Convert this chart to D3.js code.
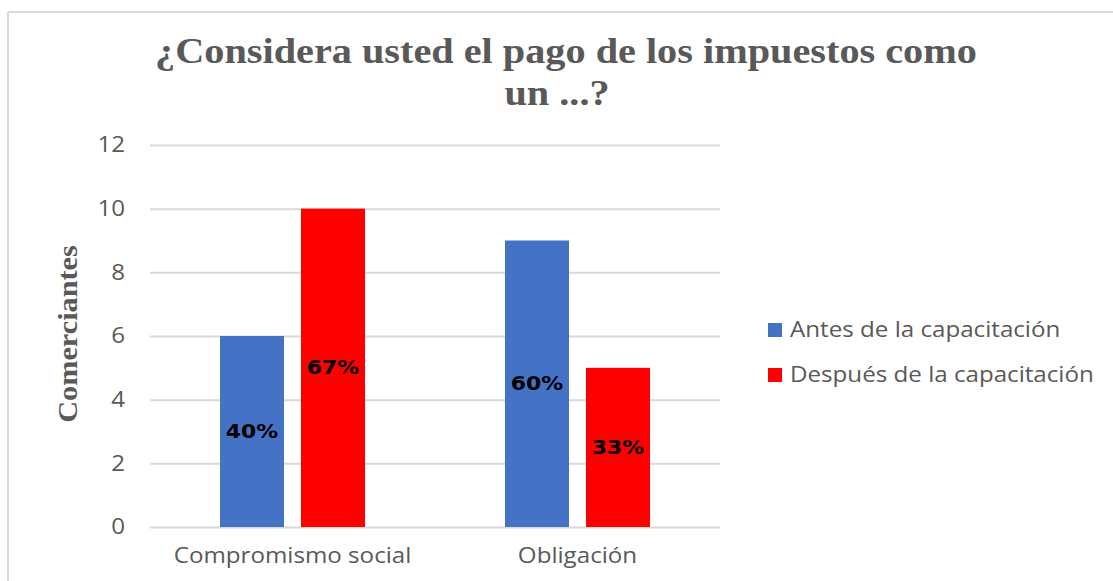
<!DOCTYPE html>
<html>
<head>
<meta charset="utf-8">
<script src="https://cdn.jsdelivr.net/npm/d3@7"></script>
<style>
  html, body { margin: 0; padding: 0; background: #ffffff; }
  svg { display: block; }
</style>
</head>
<body>
<svg id="chart" width="1113" height="581"></svg>
<script>
// Chart data
const titleLines = ["¿Considera usted el pago de los impuestos como", "un ...?"];
const yAxisTitle = "Comerciantes";
const categories = ["Compromismo social", "Obligación"];
const seriesNames = ["Antes de la capacitación", "Después de la capacitación"];
const seriesColors = ["#4472c4", "#ff0000"];
const antesValues = [6, 9];
const despuesValues = [10, 5];
const antesLabels = ["40%", "60%"];
const despuesLabels = ["67%", "33%"];
const yTicks = [0, 2, 4, 6, 8, 10, 12];

const series = [
  { name: seriesNames[0], color: seriesColors[0], values: antesValues, labels: antesLabels },
  { name: seriesNames[1], color: seriesColors[1], values: despuesValues, labels: despuesLabels }
];

const svg = d3.select("#chart");
const grey = "#595959";
const sans = "'Open Sans', sans-serif";
const serif = "'Liberation Serif', 'Times New Roman', serif";
const stretch = 1.15; // all text is drawn slightly wide

// Widen a text selection horizontally along its own direction
function widen(sel, k) {
  sel.each(function () {
    const w = this.getComputedTextLength();
    this.setAttribute("textLength", w * k);
    this.setAttribute("lengthAdjust", "spacingAndGlyphs");
  });
}

// Outer frame (top and left edges)
svg.append("line").attr("x1", 8).attr("x2", 1113).attr("y1", 12).attr("y2", 12)
  .attr("stroke", "#d9d9d9").attr("stroke-width", 2);
svg.append("line").attr("x1", 8).attr("x2", 8).attr("y1", 12).attr("y2", 581)
  .attr("stroke", "#d9d9d9").attr("stroke-width", 2);

// Plot area
const plot = { left: 150, right: 720, top: 145, bottom: 527 };

const x = d3.scaleBand().domain(categories).range([plot.left, plot.right]);
const y = d3.scaleLinear().domain([0, 12]).range([plot.bottom, plot.top]);

const barWidth = 64, barGap = 17;
const xInner = d3.scaleOrdinal().domain(seriesNames)
  .range([-(barWidth + barGap / 2), barGap / 2]);

// Gridlines
const grid = d3.axisLeft(y).tickValues(yTicks).tickSize(-(plot.right - plot.left)).tickFormat("");
svg.append("g").attr("transform", `translate(${plot.left},0)`).call(grid)
  .call(g => g.select(".domain").remove())
  .call(g => g.selectAll("line").attr("stroke", "#d9d9d9").attr("stroke-width", 2));

// Y axis tick labels
const yAxis = d3.axisLeft(y).tickValues(yTicks).tickSize(0).tickPadding(25);
svg.append("g").attr("transform", `translate(${plot.left},0)`).call(yAxis)
  .call(g => g.select(".domain").remove())
  .call(g => g.selectAll("text")
    .attr("fill", grey).attr("font-family", sans).attr("font-size", 21)
    .call(widen, stretch));

// X axis category labels
const xAxis = d3.axisBottom(x).tickSize(0).tickPadding(21);
svg.append("g").attr("transform", `translate(0,${plot.bottom})`).call(xAxis)
  .call(g => g.select(".domain").remove())
  .call(g => g.selectAll("text")
    .attr("fill", grey).attr("font-family", sans).attr("font-size", 21)
    .call(widen, stretch));

// Bars and value labels
series.forEach(s => {
  const g = svg.append("g");
  g.selectAll("rect").data(categories).join("rect")
    .attr("x", (c) => x(c) + x.bandwidth() / 2 + xInner(s.name))
    .attr("y", (c, i) => y(s.values[i]))
    .attr("width", barWidth)
    .attr("height", (c, i) => y(0) - y(s.values[i]))
    .attr("fill", s.color);
  g.selectAll("text").data(categories).join("text")
    .attr("x", (c) => x(c) + x.bandwidth() / 2 + xInner(s.name) + barWidth / 2)
    .attr("y", (c, i) => y(s.values[i] / 2))
    .attr("dy", "0.35em")
    .attr("text-anchor", "middle")
    .attr("font-family", "'DejaVu Sans', Verdana, sans-serif")
    .attr("font-weight", "bold")
    .attr("font-size", 19)
    .attr("fill", "#000000")
    .text((c, i) => s.labels[i])
    .call(widen, stretch);
});

// Title, one text element per line
const titleX = [566, 557];
svg.append("g").selectAll("text").data(titleLines).join("text")
  .attr("x", (d, i) => titleX[i])
  .attr("y", (d, i) => 63 + i * 42)
  .attr("text-anchor", "middle")
  .attr("font-family", serif)
  .attr("font-weight", "bold")
  .attr("font-size", 35)
  .attr("fill", grey)
  .text(d => d)
  .call(widen, stretch);

// Y axis title
svg.append("text")
  .attr("transform", "translate(77,334) rotate(-90)")
  .attr("text-anchor", "middle")
  .attr("font-family", serif)
  .attr("font-weight", "bold")
  .attr("font-size", 27)
  .attr("fill", grey)
  .text(yAxisTitle)
  .call(widen, 1.12);

// Legend
const legend = svg.append("g").selectAll("g").data(series).join("g")
  .attr("transform", (d, i) => `translate(768,${323 + i * 45})`);
legend.append("rect").attr("width", 14).attr("height", 14).attr("fill", d => d.color);
legend.append("text")
  .attr("x", 22).attr("y", 7).attr("dy", "0.35em")
  .attr("font-family", sans)
  .attr("font-size", 21)
  .attr("fill", grey)
  .text(d => d.name)
  .call(widen, stretch);
</script>
</body>
</html>
